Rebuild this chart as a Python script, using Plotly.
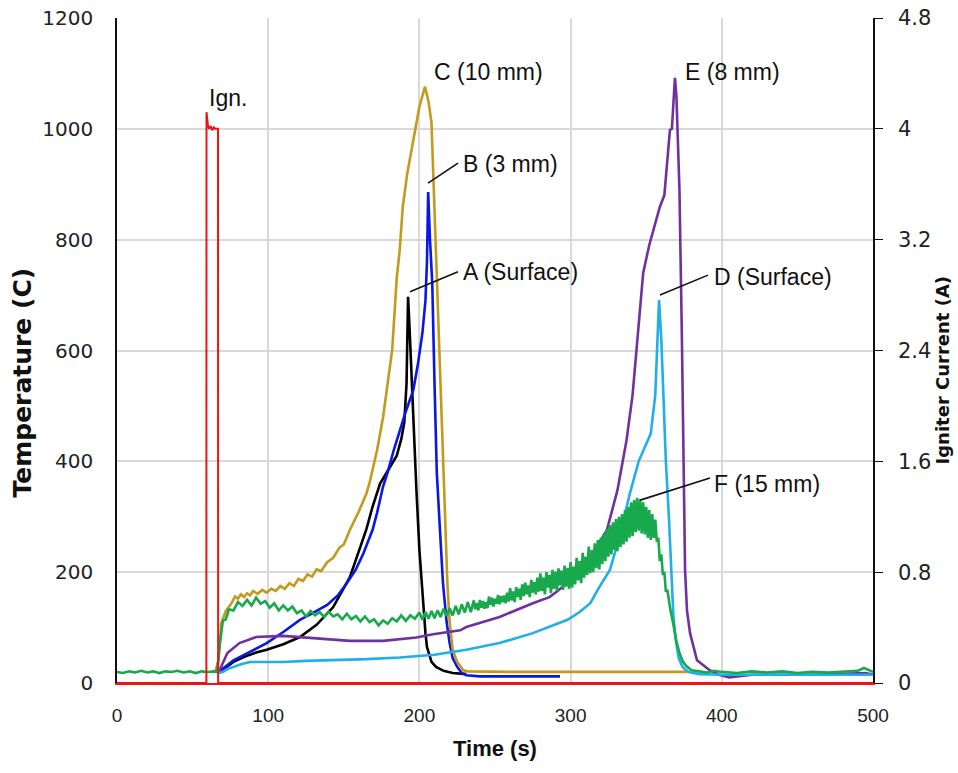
import plotly.graph_objects as go

# ---------------- data ----------------
# A (Surface) - black
a_time = [66, 68, 70, 73, 77, 85, 92, 99, 110, 121, 132, 143, 154, 161, 165, 169, 174, 178, 182, 185,
          188, 190, 191.5, 192.5, 193.5, 195, 197, 198, 200, 202, 204, 205, 208, 211, 216, 222, 231]
a_temp = [20, 22, 25, 30, 38, 48, 55, 60, 70, 83, 105, 137, 191, 246, 278, 318, 360, 378, 395, 410,
          440, 470, 541, 697, 640, 541, 400, 350, 240, 160, 90, 65, 38, 29, 22, 18, 16]

# B (3 mm) - blue
b_time = [66, 68, 72, 77, 85, 92, 99, 110, 121, 130, 139, 146, 152, 158, 163, 169, 172, 176, 179, 183,
          187, 191, 196, 199, 202, 204, 205, 205.8, 207, 208.5, 210, 211.5, 213.6, 215.6, 218, 220,
          222, 225, 228, 231, 240, 260, 280, 293]
b_temp = [20, 22, 30, 41, 52, 62, 72, 92, 114, 127, 141, 158, 180, 205, 234, 276, 307, 355, 380, 420,
          457, 490, 529, 575, 632, 690, 760, 886, 800, 722, 541, 380, 276, 180, 110, 72,
          45, 29, 18, 14, 12, 12, 12, 12]

# C (10 mm) - gold
c_time = [65, 67, 69, 72, 76, 78, 80, 82, 84, 86, 88, 90, 93, 96, 99, 102, 105, 108, 111, 114, 117,
          120, 123, 126, 129, 132, 135, 139, 143, 147, 150, 154, 160, 165, 167, 172, 176, 179, 182,
          185, 187, 189, 192, 196, 200, 203.7, 206, 208, 210, 212, 214, 216, 217, 218.5, 220, 222,
          225, 229, 232, 260, 300, 340, 377]
c_temp = [20, 40, 108, 130, 145, 156, 152, 160, 155, 162, 158, 166, 161, 168, 163, 170, 166, 175, 170,
          180, 175, 188, 184, 196, 192, 205, 202, 218, 226, 244, 250, 276, 310, 342, 361, 420, 480,
          540, 601, 730, 782, 859, 920, 980, 1040, 1076, 1050, 1011, 860, 700, 560, 390, 300, 180,
          110, 60, 38, 23, 21, 20, 20, 20, 20]

# D (Surface) - light blue
d_time = [67, 70, 73, 77, 82, 88, 100, 110, 125, 143, 165, 187, 210, 231, 253, 275, 290, 298, 306, 313,
          319, 326, 333, 339, 345, 350, 353, 356, 358.5, 360, 361.5, 363, 365, 366.5, 368, 369.5,
          371.5, 374, 378, 385, 400, 450, 500]
d_temp = [18, 20, 25, 29, 34, 38, 38, 38, 40, 41, 43, 46, 51, 60, 72, 90, 105, 114, 128, 144,
          173, 204, 270, 340, 400, 430, 450, 520, 691, 620, 500, 400, 300, 210, 120, 78,
          45, 29, 20, 16, 15, 15, 15]

# E (8 mm) - purple
e_time = [67, 69, 73, 81, 92, 110, 132, 154, 176, 198, 209, 227, 231, 253, 275, 286, 291, 300, 304, 315,
          324, 331, 337, 341, 344.6, 348, 352, 356, 359, 362, 365.7, 367, 369, 370, 371, 372, 373.6,
          374.5, 375.7, 377, 379, 383.6, 392, 398, 405, 410, 420, 460, 495, 500]
e_temp = [18, 30, 54, 72, 83, 85, 80, 76, 76, 82, 88, 95, 101, 119, 144, 155, 165, 186, 195, 235,
          276, 348, 438, 520, 632, 740, 790, 830, 859, 880, 998, 1000, 1092, 1058, 980, 890, 624,
          438, 204, 130, 90, 41, 23, 15, 10, 12, 15, 15, 18, 15]

# F (15 mm) - green (noisy trace)
f_time = [0, 4, 8, 12, 16, 20, 24, 28, 32, 36, 40, 44, 48, 52, 56, 60, 64, 66,
          67, 68, 70, 72, 74, 77, 80, 83, 86, 89, 92, 95, 98, 101, 104, 107, 110, 113, 116, 119,
          122, 125, 128, 131, 134, 137, 140, 143, 146, 149, 152, 155, 158, 161, 164, 167, 170,
          173, 176, 179, 182, 185, 188, 191, 194, 197,
          200, 202, 204, 206, 208, 210, 212, 214, 216, 218, 220, 222, 224, 226, 228, 230, 232, 234,
          236, 237, 238, 239, 240, 241, 242, 243, 244, 245, 246, 247, 248, 249, 250, 251, 252, 253,
          254, 255, 256, 257, 258, 259,
          260, 261, 262, 263, 264, 265, 266, 267, 268, 269, 270, 271, 272, 273, 274, 275, 276, 277,
          278, 279,
          280, 281, 282, 283, 284, 285, 286, 287, 288, 289, 290, 291, 292, 293, 294, 295, 296, 297,
          298, 299,
          300, 301, 302, 303, 304, 305, 306, 307, 308, 309, 310, 311, 312, 313, 314,
          315, 316, 317, 318, 319, 320, 321, 322, 323, 324, 325, 326, 327, 328, 329, 330,
          331, 332, 333, 334, 335, 336, 337, 338, 339, 340, 341, 342, 343, 344,
          345, 346, 347, 348, 349, 350, 351, 352, 353, 354, 355,
          356, 357, 358, 359, 360, 361, 362, 363, 364, 366, 368, 370, 372, 374, 376, 378,
          380, 385, 390, 395, 400, 410, 420, 430, 440, 450, 460, 470, 480, 490, 494, 497, 500]
f_temp = [20, 18, 21, 19, 22, 19, 21, 18, 21, 20, 22, 19, 21, 18, 21, 20, 21, 20,
          40, 70, 112, 115, 133, 131, 146, 139, 150, 140, 154, 143, 148, 136, 144, 131, 140, 131, 138, 126,
          131, 120, 130, 122, 128, 119, 129, 120, 124, 115, 125, 115, 121, 111, 120, 110, 115,
          104, 113, 107, 117, 111, 122, 112, 122, 116,
          127, 114, 128, 116, 130, 117, 131, 119, 134, 121, 135, 122, 139, 124, 142, 127, 146, 128,
          149, 133, 144, 131, 150, 136, 148, 134, 146, 135, 156, 141, 154, 138, 152, 143, 159, 142,
          157, 146, 158, 144, 163, 147,
          171, 149, 165, 146, 173, 155, 170, 150, 178, 157, 181, 160, 176, 155, 186, 163, 182, 160,
          190, 165,
          198, 166, 190, 160, 200, 172, 195, 162, 204, 170, 201, 166, 207, 176, 203, 168, 212, 174,
          208, 170,
          218, 172, 210, 178, 226, 185, 220, 180, 235, 190, 228, 195, 246, 198, 240,
          200, 252, 207, 258, 205, 262, 215, 270, 220, 278, 228, 285, 232, 290, 240, 296,
          238, 300, 245, 305, 250, 312, 255, 318, 262, 326, 265, 330, 272, 334,
          275, 332, 270, 326, 268, 318, 262, 312, 258, 305, 262,
          295, 255, 262, 220, 232, 195, 200, 165, 168, 132, 105, 75, 54, 40, 32, 27,
          23, 21, 19, 22, 20, 18, 21, 19, 21, 18, 20, 19, 21, 22, 27, 24, 20]

# Igniter current (A) - red, right axis
ign_time = [0, 59.1, 59.2, 59.6, 60.2, 61, 62, 63, 64, 65, 66.8, 66.9, 500]
ign_curr = [0, 0, 4.12, 4.08, 4.02, 4.0, 4.02, 3.99, 4.01, 4.0, 4.0, 0, 0]

x_ticks = [0, 100, 200, 300, 400, 500]
t_ticks = [0, 200, 400, 600, 800, 1000, 1200]
i_ticks = [0, 0.8, 1.6, 2.4, 3.2, 4.0, 4.8]
i_tick_text = ["0", "0.8", "1.6", "2.4", "3.2", "4", "4.8"]

# label text, anchor (time, temp) and leader line ends (time, temp)
labels = ["Ign.", "C (10 mm)", "B (3 mm)", "A (Surface)", "E (8 mm)", "D (Surface)", "F (15 mm)"]
label_time = [59.5, 208.3, 227.5, 227.5, 374.3, 393.5, 393.5]
label_temp = [1056, 1103, 937, 742, 1103, 733, 359]
leader_from_time = [None, None, 205.7, 193.8, None, 359.1, 346.0]
leader_from_temp = [None, None, 902, 706, None, 700, 330]
leader_to_time = [None, None, 225.5, 225.5, None, 390.9, 392.2]
leader_to_temp = [None, None, 938, 742, None, 736, 370]

# ---------------- figure ----------------
fig = go.Figure()
series = [
    ("A (Surface)", a_time, a_temp, "#000000"),
    ("B (3 mm)", b_time, b_temp, "#0a17e3"),
    ("C (10 mm)", c_time, c_temp, "#c39a1c"),
    ("E (8 mm)", e_time, e_temp, "#7030a0"),
    ("D (Surface)", d_time, d_temp, "#1eb0e6"),
    ("F (15 mm)", f_time, f_temp, "#17a94b"),
]
for name, tx, ty, col in series:
    fig.add_trace(go.Scatter(x=tx, y=ty, mode="lines", name=name,
                             line=dict(color=col, width=2.6), yaxis="y"))

fig.add_trace(go.Scatter(x=ign_time, y=ign_curr, mode="lines", name="Igniter",
                         line=dict(color="#ee1414", width=2), yaxis="y2"))

for i, txt in enumerate(labels):
    fig.add_annotation(x=label_time[i], y=label_temp[i], xref="x", yref="y", text=txt,
                       showarrow=False, xanchor="left", yanchor="middle",
                       font=dict(family="Liberation Sans", size=23, color="#111111"))
    if leader_from_time[i] is not None:
        fig.add_shape(type="line", xref="x", yref="y",
                      x0=leader_from_time[i], y0=leader_from_temp[i],
                      x1=leader_to_time[i], y1=leader_to_temp[i],
                      line=dict(color="#111111", width=1.6))

# axis titles as annotations (precise placement)
fig.add_annotation(x=0.5, y=0, xref="paper", yref="paper", yshift=-65, text="<b>Time (s)</b>",
                   showarrow=False, xanchor="center", yanchor="middle",
                   font=dict(family="Liberation Sans", size=22, color="#111111"))
fig.add_annotation(x=0, y=0.5, xref="paper", yref="paper", xshift=-95, yshift=-32,
                   text="<b>Temperature (C)</b>", textangle=-90, showarrow=False,
                   xanchor="center", yanchor="middle",
                   font=dict(family="DejaVu Sans", size=25, color="#111111"))
fig.add_annotation(x=1, y=0.5, xref="paper", yref="paper", xshift=69, yshift=-20,
                   text="<b>Igniter Current (A)</b>", textangle=-90, showarrow=False,
                   xanchor="center", yanchor="middle",
                   font=dict(family="DejaVu Sans", size=18, color="#111111"))

fig.update_layout(
    width=958, height=773,
    margin=dict(l=117, r=85, t=18, b=90, autoexpand=False),
    plot_bgcolor="white", paper_bgcolor="white",
    showlegend=False,
    xaxis=dict(range=[0, 500], tickvals=x_ticks, showgrid=True, gridcolor="#d9d9d9", gridwidth=2,
               showline=True, linecolor="#ee1414", linewidth=2, zeroline=False, ticks="",
               ticklabelstandoff=14, automargin=False,
               tickfont=dict(family="Liberation Sans", size=19, color="#222222")),
    yaxis=dict(range=[0, 1200], tickvals=t_ticks, showgrid=True, gridcolor="#d9d9d9", gridwidth=2,
               showline=True, linecolor="#111111", linewidth=1.5, zeroline=False, ticks="",
               ticklabelstandoff=18, automargin=False,
               tickfont=dict(family="DejaVu Sans", size=20, color="#222222")),
    yaxis2=dict(range=[0, 4.8], tickvals=i_ticks, ticktext=i_tick_text, overlaying="y", side="right",
                showgrid=False, showline=True, linecolor="#111111", linewidth=1.5, zeroline=False,
                ticks="outside", ticklen=8, tickcolor="#111111", ticklabelstandoff=11,
                automargin=False,
                tickfont=dict(family="DejaVu Sans", size=21, color="#222222")),
)

# remove the browser's default 8 px page margin so the figure fills the window exactly
fig.write_html("out.html", config={"displayModeBar": False},
               post_script="document.body.style.margin='0';")
